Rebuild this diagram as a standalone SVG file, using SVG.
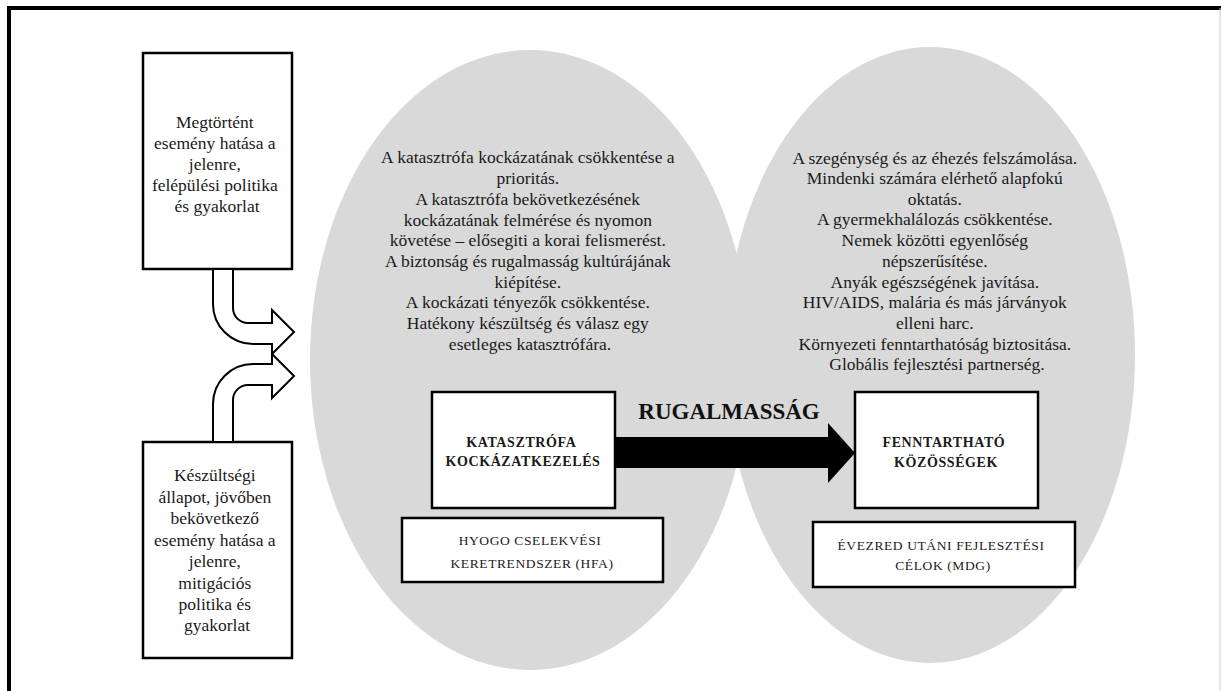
<svg xmlns="http://www.w3.org/2000/svg" width="1221" height="691" viewBox="0 0 1221 691">
  <style>
    .box { fill: #ffffff; stroke: #000000; stroke-width: 2.5; }
    .bent { fill: #ffffff; stroke: #000000; stroke-width: 2; stroke-linejoin: miter; }
    .zone { fill: #d9d9d9; }
    .txt { font-family: "Liberation Serif", "Times New Roman", serif; font-size: 17.5px; fill: #1a1a1a; text-anchor: middle; }
    .cap { font-family: "Liberation Serif", "Times New Roman", serif; font-size: 13.5px; fill: #1a1a1a; text-anchor: middle; letter-spacing: 0.6px; }
    .capb { font-weight: bold; font-size: 14px; }
    .title { font-family: "Liberation Serif", "Times New Roman", serif; font-size: 23px; font-weight: bold; fill: #111111; text-anchor: middle; }
  </style>

  <rect width="1221" height="691" fill="#ffffff"/>

  <!-- page frame -->
  <path d="M9,691 V8 H1221" fill="none" stroke="#000000" stroke-width="4"/>
  <line x1="1220" y1="8" x2="1220" y2="691" stroke="#cccccc" stroke-width="1"/>

  <!-- overlapping fields -->
  <g id="field-drr">
    <ellipse class="zone" cx="530" cy="360" rx="220" ry="310"/>
  </g>
  <g id="field-mdg">
    <ellipse class="zone" cx="930" cy="355" rx="205" ry="308"/>
  </g>

  <!-- left-hand inputs -->
  <g id="past-event">
    <rect class="box" x="143" y="53" width="149" height="216"/>
    <text class="txt">
      <tspan x="217" y="128">Megtörtént</tspan>
      <tspan x="217" y="149">esemény hatása a</tspan>
      <tspan x="217" y="170">jelenre,</tspan>
      <tspan x="217" y="191">felépülési politika</tspan>
      <tspan x="217" y="212">és gyakorlat</tspan>
    </text>
  </g>

  <g id="future-event">
    <rect class="box" x="143" y="442" width="149" height="216"/>
    <text class="txt">
      <tspan x="217" y="481">Készültségi</tspan>
      <tspan x="217" y="503">állapot, jövőben</tspan>
      <tspan x="217" y="524">bekövetkező</tspan>
      <tspan x="217" y="546">esemény hatása a</tspan>
      <tspan x="217" y="567">jelenre,</tspan>
      <tspan x="217" y="589">mitigációs</tspan>
      <tspan x="217" y="610">politika és</tspan>
      <tspan x="217" y="631">gyakorlat</tspan>
    </text>
  </g>

  <!-- connectors -->
  <g id="connectors">
    <path class="bent" d="M213,269 V304 A40,40 0 0 0 253,344 H272 V354 L294,332 L272,310 V323 H248 A15,15 0 0 1 233,308 V269 Z"/>
    <path class="bent" d="M213,442 V404 A40,40 0 0 1 253,364 H272 V354 L294,376 L272,398 V385 H248 A15,15 0 0 0 233,400 V442 Z"/>
    <path d="M615,437 H828 V423 L855,453 L828,483 V468 H615 Z" fill="#000000"/>
    <text class="title" x="729" y="419">RUGALMASSÁG</text>
  </g>

  <!-- left field text -->
  <g id="drr-goals">
    <text class="txt">
      <tspan x="530" y="163">A katasztrófa kockázatának csökkentése a</tspan>
      <tspan x="530" y="184">prioritás.</tspan>
      <tspan x="530" y="205">A katasztrófa bekövetkezésének</tspan>
      <tspan x="530" y="226">kockázatának felmérése és nyomon</tspan>
      <tspan x="530" y="246">követése – elősegiti a korai felismerést.</tspan>
      <tspan x="530" y="267">A biztonság és rugalmasság kultúrájának</tspan>
      <tspan x="530" y="288">kiépítése.</tspan>
      <tspan x="530" y="308">A kockázati tényezők csökkentése.</tspan>
      <tspan x="530" y="329">Hatékony készültség és válasz egy</tspan>
      <tspan x="530" y="350">esetleges katasztrófára.</tspan>
    </text>
  </g>

  <!-- right field text -->
  <g id="mdg-goals">
    <text class="txt">
      <tspan x="937" y="164">A szegénység és az éhezés felszámolása.</tspan>
      <tspan x="937" y="184">Mindenki számára elérhető alapfokú</tspan>
      <tspan x="937" y="205">oktatás.</tspan>
      <tspan x="937" y="225">A gyermekhalálozás csökkentése.</tspan>
      <tspan x="937" y="246">Nemek közötti egyenlőség</tspan>
      <tspan x="937" y="267">népszerűsítése.</tspan>
      <tspan x="937" y="288">Anyák egészségének javítása.</tspan>
      <tspan x="937" y="308">HIV/AIDS, malária és más járványok</tspan>
      <tspan x="937" y="329">elleni harc.</tspan>
      <tspan x="937" y="350">Környezeti fenntarthatóság biztositása.</tspan>
      <tspan x="937" y="370">Globális fejlesztési partnerség.</tspan>
    </text>
  </g>

  <!-- central boxes -->
  <g id="drm">
    <rect class="box" x="432" y="392" width="183" height="116"/>
    <text class="cap capb">
      <tspan x="523" y="447">KATASZTRÓFA</tspan>
      <tspan x="523" y="466">KOCKÁZATKEZELÉS</tspan>
    </text>
  </g>

  <g id="hfa">
    <rect class="box" x="402" y="518" width="261" height="64"/>
    <text class="cap">
      <tspan x="532" y="545">HYOGO CSELEKVÉSI</tspan>
      <tspan x="532" y="568">KERETRENDSZER (HFA)</tspan>
    </text>
  </g>

  <g id="sustainable">
    <rect class="box" x="855" y="392" width="183" height="116"/>
    <text class="cap capb">
      <tspan x="946" y="447">FENNTARTHATÓ</tspan>
      <tspan x="946" y="467">KÖZÖSSÉGEK</tspan>
    </text>
  </g>

  <g id="mdg">
    <rect class="box" x="813" y="522" width="262" height="65"/>
    <text class="cap">
      <tspan x="943" y="550">ÉVEZRED UTÁNI FEJLESZTÉSI</tspan>
      <tspan x="943" y="570">CÉLOK (MDG)</tspan>
    </text>
  </g>
</svg>
